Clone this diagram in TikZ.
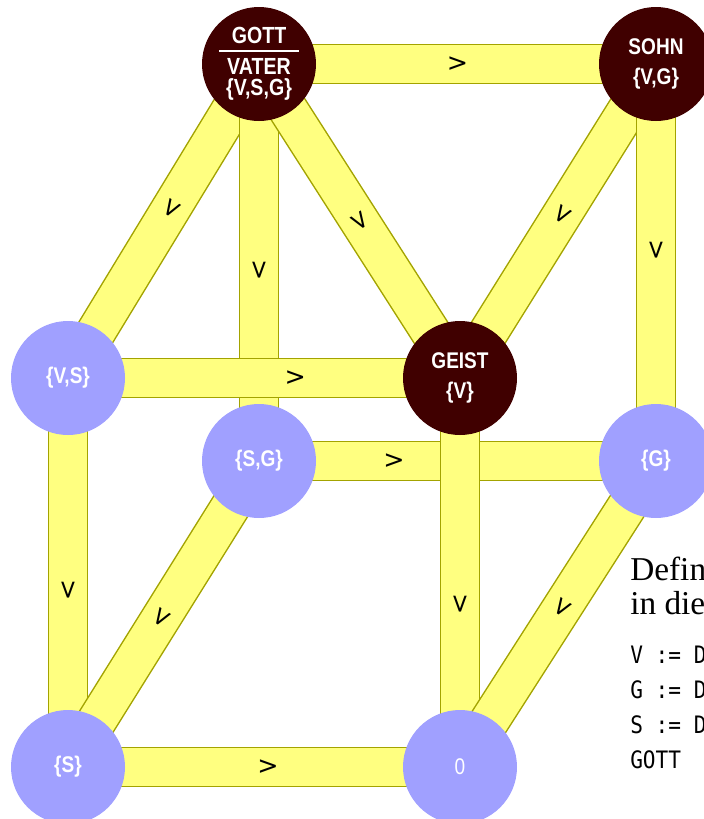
\documentclass[tikz,border=0pt]{standalone}
\usepackage{fontspec}
\setmainfont{Liberation Serif}
\newfontfamily\nodefont[FakeStretch=0.84]{Liberation Sans}
\newfontfamily\codefont[FakeStretch=0.88]{DejaVu Sans Mono}
\newfontfamily\markfont{DejaVu Sans}
\usetikzlibrary{backgrounds}
\definecolor{bandfill}{HTML}{FFFF80}
\definecolor{bandline}{HTML}{A3A300}
\definecolor{godred}{HTML}{400000}
\definecolor{setblue}{HTML}{A0A0FF}

\tikzset{
  god/.style={circle, fill=godred, text=white, minimum size=85.5pt, inner sep=0pt, align=center, font=\nodefont\bfseries\fontsize{17}{23}\selectfont},
  subset/.style={circle, fill=setblue, text=white, minimum size=85.5pt, inner sep=0pt, font=\nodefont\bfseries\fontsize{17}{20}\selectfont},
  band/.style={draw=bandline, double=bandfill, line width=1.1pt, double distance=28.5pt},
  flow/.style={sloped, allow upside down, inner sep=0pt, font=\markfont\fontsize{19}{19}\selectfont},
  defn/.style={anchor=base west, inner sep=0pt, font=\fontsize{25}{30}\selectfont},
  code/.style={anchor=base west, inner sep=0pt, font=\codefont\fontsize{18}{20}\selectfont}
}

\begin{document}
\begin{tikzpicture}[x=0.75pt, y=-0.75pt]
  \useasboundingbox (0,0) rectangle (704,819);
  \clip (0,0) rectangle (704,819);

  % Lattice nodes
  \node[god, font=\nodefont\bfseries\fontsize{17.5}{16}\selectfont] (gott) at (259,64)
    {GOTT\\[-10pt]\rule{60pt}{1.5pt}\\[1.25pt]VATER\\\{V,S,G\}};
  \node[god] (sohn) at (656,64) {SOHN\\\{V,G\}};
  \node[god] (geist) at (460,378) {GEIST\\\{V\}};
  \node[subset] (vs) at (68,378) {\{V,S\}};
  \node[subset] (sg) at (259,461) {\{S,G\}};
  \node[subset] (g) at (656,461) {\{G\}};
  \node[subset] (s) at (68,767) {\{S\}};
  \node[subset, font=\nodefont\fontsize{17}{20}\selectfont] (null) at (460,767) {0};

  % Bands with order marks
  \begin{pgfonlayer}{background}
    \foreach \a/\b/\p in {gott/sohn/.5, gott/vs/.46, gott/sg/.52, gott/geist/.5,
                          sohn/geist/.48, sohn/g/.47, vs/geist/.58, vs/s/.545,
                          sg/g/.34, sg/s/.51, geist/null/.58, g/null/.48, s/null/.51}
      \draw[band] (\a.center) -- (\b.center) node[flow, pos=\p] {>};
  \end{pgfonlayer}

  % Definitions
  \node[defn] (defa) at (630,580) {Defin};
  \node[defn] (defb) at (630,614) {in die};
  \foreach \t [count=\i] in {V := D, G := D, S := D, GOTT}
    \node[code] (code\i) at (630,628+35*\i) {\t};
\end{tikzpicture}
\end{document}
